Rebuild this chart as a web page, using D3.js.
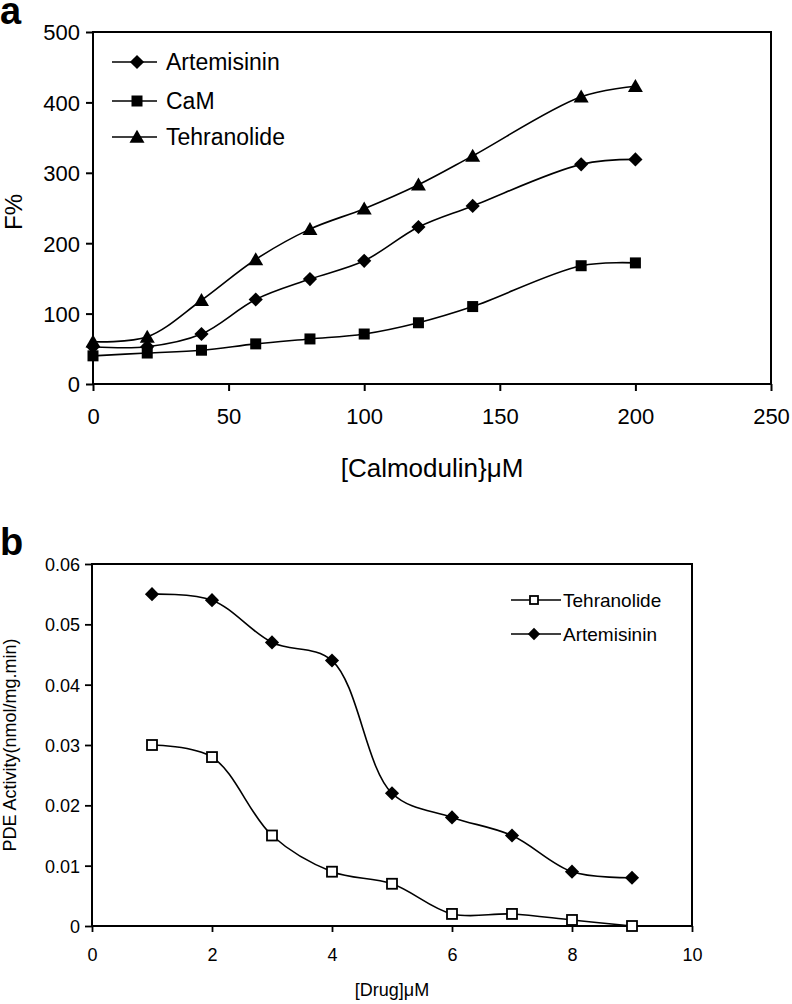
<!DOCTYPE html>
<html>
<head>
<meta charset="utf-8">
<script src="https://cdn.jsdelivr.net/npm/d3@7"></script>
<style>
  body { margin: 0; background: #fff; }
  svg { display: block; }
  text { font-family: "Liberation Sans", Arial, sans-serif; fill: #000; }
</style>
</head>
<body>
<svg id="chart" width="792" height="1004"></svg>
<script>
// ---- Panel a data ----
const calmodulinX = [0, 20, 40, 60, 80, 100, 120, 140, 180, 200];
const artemisininA = [53, 53, 71, 120, 149, 175, 223, 253, 312, 319];
const camA = [40, 44, 48, 57, 64, 71, 87, 110, 168, 172];
const tehranolideA = [60, 67, 119, 177, 220, 249, 283, 324, 408, 423];
const xTicksA = [0, 50, 100, 150, 200, 250];
const yTicksA = [0, 100, 200, 300, 400, 500];

// ---- Panel b data ----
const drugX = [1, 2, 3, 4, 5, 6, 7, 8, 9];
const tehranolideB = [0.030, 0.028, 0.015, 0.009, 0.007, 0.002, 0.002, 0.001, 0.000];
const artemisininB = [0.055, 0.054, 0.047, 0.044, 0.022, 0.018, 0.015, 0.009, 0.008];
const xTicksB = [0, 2, 4, 6, 8, 10];
const yTicksB = [0, 0.01, 0.02, 0.03, 0.04, 0.05, 0.06];

const svg = d3.select("#chart");

function marker(g, type, x, y, size) {
  if (type === "diamond") {
    g.append("path").attr("d", d3.symbol().type(d3.symbolDiamond2).size(size * size * 0.5)())
      .attr("transform", `translate(${x},${y})`).attr("fill", "#000");
  } else if (type === "square") {
    g.append("rect").attr("x", x - size / 2).attr("y", y - size / 2)
      .attr("width", size).attr("height", size).attr("fill", "#000");
  } else if (type === "triangle") {
    const h = size;
    g.append("path").attr("d", `M${x},${y - h * 0.55}L${x + size / 2 + 1},${y + h * 0.45}L${x - size / 2 - 1},${y + h * 0.45}Z`)
      .attr("fill", "#000");
  } else if (type === "open") {
    g.append("rect").attr("x", x - size / 2).attr("y", y - size / 2)
      .attr("width", size).attr("height", size).attr("fill", "#fff")
      .attr("stroke", "#000").attr("stroke-width", 1.8);
  }
}

// ================= Panel a =================
{
  const L = 93, R = 771, T = 32, B = 384;
  const x = d3.scaleLinear().domain([0, 250]).range([L, R]);
  const y = d3.scaleLinear().domain([0, 500]).range([B, T]);
  const g = svg.append("g");

  g.append("rect").attr("x", L).attr("y", T).attr("width", R - L).attr("height", B - T)
    .attr("fill", "none").attr("stroke", "#000").attr("stroke-width", 2);

  const xa = g.append("g").attr("transform", `translate(0,${B})`)
    .call(d3.axisBottom(x).tickValues(xTicksA).tickSize(7).tickPadding(17).tickFormat(d3.format("d")));
  const ya = g.append("g").attr("transform", `translate(${L},0)`)
    .call(d3.axisLeft(y).tickValues(yTicksA).tickSize(7).tickPadding(6).tickFormat(d3.format("d")));
  [xa, ya].forEach(a => {
    a.select(".domain").remove();
    a.selectAll("line").attr("stroke", "#000").attr("stroke-width", 2);
    a.selectAll("text").style("font-size", "22px").style("font-family", "Liberation Sans, Arial, sans-serif");
  });
  ya.selectAll("text").attr("dy", "0.36em");

  const line = d3.line().x((d, i) => x(calmodulinX[i])).y(d => y(d)).curve(d3.curveCatmullRom.alpha(0.5));
  const series = [
    { vals: artemisininA, type: "diamond", name: "Artemisinin", size: 16 },
    { vals: camA, type: "square", name: "CaM", size: 11 },
    { vals: tehranolideA, type: "triangle", name: "Tehranolide", size: 13 }
  ];
  series.forEach(s => {
    g.append("path").attr("d", line(s.vals)).attr("fill", "none").attr("stroke", "#000").attr("stroke-width", 1.6);
    s.vals.forEach((v, i) => marker(g, s.type, x(calmodulinX[i]), y(v), s.size));
  });

  // legend
  const legY = [62, 101, 137];
  series.forEach((s, i) => {
    g.append("line").attr("x1", 112).attr("x2", 157).attr("y1", legY[i]).attr("y2", legY[i])
      .attr("stroke", "#000").attr("stroke-width", 1.6);
    marker(g, s.type, 137, legY[i], s.size);
    g.append("text").attr("x", 166).attr("y", legY[i]).attr("dy", "0.36em")
      .style("font-size", "23px").text(s.name);
  });

  g.append("text").attr("transform", `translate(22,212) rotate(-90)`).attr("text-anchor", "middle")
    .style("font-size", "24px").text("F%");
  g.append("text").attr("x", 432).attr("y", 477).attr("text-anchor", "middle")
    .style("font-size", "26px").text("[Calmodulin}μM");
  g.append("text").attr("x", 0).attr("y", 24).style("font-size", "38px").style("font-weight", "bold").text("a");
}

// ================= Panel b =================
{
  const L = 92, R = 692, T = 564, B = 926;
  const x = d3.scaleLinear().domain([0, 10]).range([L, R]);
  const y = d3.scaleLinear().domain([0, 0.06]).range([B, T]);
  const g = svg.append("g");

  g.append("rect").attr("x", L).attr("y", T).attr("width", R - L).attr("height", B - T)
    .attr("fill", "none").attr("stroke", "#000").attr("stroke-width", 2);

  const xa = g.append("g").attr("transform", `translate(0,${B})`)
    .call(d3.axisBottom(x).tickValues(xTicksB).tickSize(6).tickPadding(16).tickFormat(d3.format("d")));
  const ya = g.append("g").attr("transform", `translate(${L},0)`)
    .call(d3.axisLeft(y).tickValues(yTicksB).tickSize(7).tickPadding(5).tickFormat(d => d === 0 ? "0" : d3.format(".2f")(d)));
  [xa, ya].forEach(a => {
    a.select(".domain").remove();
    a.selectAll("line").attr("stroke", "#000").attr("stroke-width", 1.8);
    a.selectAll("text").style("font-size", "18px").style("font-family", "Liberation Sans, Arial, sans-serif");
  });
  ya.selectAll("text").attr("dy", "0.36em");

  const line = d3.line().x((d, i) => x(drugX[i])).y(d => y(d)).curve(d3.curveCatmullRom.alpha(0.5));
  const series = [
    { vals: tehranolideB, type: "open", name: "Tehranolide", size: 10 },
    { vals: artemisininB, type: "diamond", name: "Artemisinin", size: 16 }
  ];
  series.forEach(s => {
    g.append("path").attr("d", line(s.vals)).attr("fill", "none").attr("stroke", "#000").attr("stroke-width", 1.6);
    s.vals.forEach((v, i) => marker(g, s.type, x(drugX[i]), y(v), s.size));
  });

  const legY = [600, 634];
  series.forEach((s, i) => {
    g.append("line").attr("x1", 511).attr("x2", 561).attr("y1", legY[i]).attr("y2", legY[i])
      .attr("stroke", "#000").attr("stroke-width", 1.6);
    marker(g, s.type, 534, legY[i], s.type === "open" ? 8 : 14);
    g.append("text").attr("x", 563).attr("y", legY[i]).attr("dy", "0.36em")
      .style("font-size", "19px").text(s.name);
  });

  g.append("text").attr("transform", `translate(16,745) rotate(-90)`).attr("text-anchor", "middle")
    .style("font-size", "18px").text("PDE Activity(nmol/mg.min)");
  g.append("text").attr("x", 392).attr("y", 996).attr("text-anchor", "middle")
    .style("font-size", "18px").text("[Drug]μM");
  g.append("text").attr("x", 0).attr("y", 555).style("font-size", "38px").style("font-weight", "bold").text("b");
}
</script>
</body>
</html>
